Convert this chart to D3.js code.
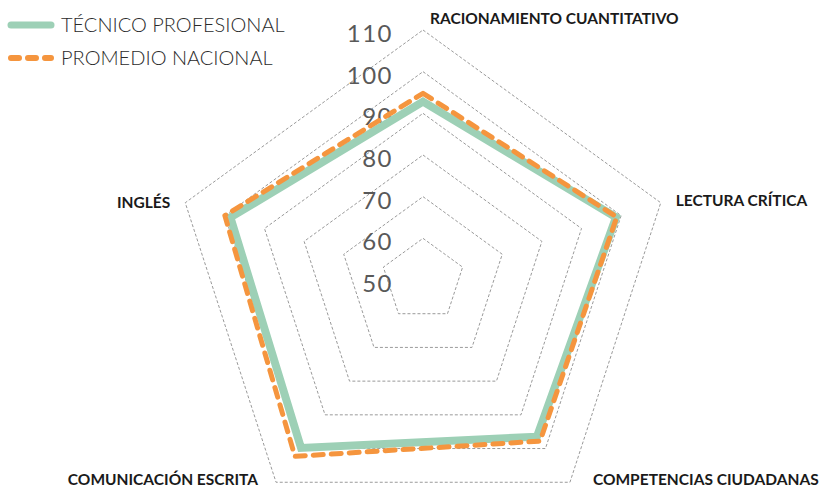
<html>
<head>
  <meta charset="utf-8">
  <script src="https://d3js.org/d3.v7.min.js"></script>
  <style>
  body{ margin:0; background:#fff; }
  .grid{
    fill:none;
    stroke:#9a9a9a;
    stroke-width:1px;
    stroke-dasharray:3,2;
  }
  .axisLabel{
    font-family:Lato, "Open Sans", sans-serif;
    font-weight:700;
    font-size:15.5px;
    fill:#1a1a1a;
  }
  .tick{
    font-family:Lato, "Open Sans", sans-serif;
    font-size:24px;
    letter-spacing:1.5px;
    fill:#595959;
  }
  .legend{
    font-family:Lato, "Open Sans", sans-serif;
    font-weight:300;
    font-size:20px;
    fill:#2b2b2b;
  }
  </style>
</head>
<body>
  <svg id="radar" width="819" height="492"></svg>
  <script>
    // data
    const axes = ["RACIONAMIENTO CUANTITATIVO", "LECTURA CRÍTICA", "COMPETENCIAS CIUDADANAS", "COMUNICACIÓN ESCRITA", "INGLÉS"];
    const tecnico = [92.8, 98.7, 96.5, 99.8, 98.6];
    const nacional = [94.8, 98.9, 97.8, 102.3, 100.0];
    const ticks = [50, 60, 70, 80, 90, 100, 110];
    const seriesNames = ["TÉCNICO PROFESIONAL", "PROMEDIO NACIONAL"];

    const svg = d3.select("#radar");
    const cx = 423, cy = 280;
    const g = svg.append("g").attr("transform", "translate(" + cx + "," + cy + ")");

    const r = d3.scaleLinear().domain([50, 110]).range([0, 250]);
    const angle = d3.scaleLinear().domain([0, axes.length]).range([0, 2 * Math.PI]);

    const radial = d3.lineRadial()
      .angle((d, i) => angle(i))
      .radius(d => r(d))
      .curve(d3.curveLinearClosed);

    // grid pentagons
    g.selectAll(".grid").data(ticks.slice(1))
      .enter().append("path")
      .attr("class", "grid")
      .attr("d", t => radial(axes.map(() => t)));

    // tick labels
    g.selectAll(".tick").data(ticks)
      .enter().append("text")
      .attr("class", "tick")
      .attr("text-anchor", "end")
      .attr("x", -30)
      .attr("y", t => -r(t) + 12)
      .text(t => t);

    // series
    g.append("path")
      .attr("d", radial(tecnico))
      .attr("fill", "none")
      .attr("stroke", "#9dd0b6")
      .attr("stroke-width", 8)
      .attr("stroke-linejoin", "miter");

    g.append("path")
      .attr("d", radial(nacional))
      .attr("fill", "none")
      .attr("stroke", "#f5953e")
      .attr("stroke-width", 5)
      .attr("stroke-dasharray", "10,8")
      .attr("stroke-linecap", "round")
      .attr("stroke-linejoin", "round");

    // axis labels around the outer ring
    const pt = i => {
      const a = angle(i) - Math.PI / 2;
      return [r(110) * Math.cos(a), r(110) * Math.sin(a)];
    };
    const labelPos = [
      {dx: 7, dy: -6, anchor: "start"},
      {dx: 15, dy: 3, anchor: "start"},
      {dx: 23, dy: 3, anchor: "start"},
      {dx: -18, dy: 3, anchor: "end"},
      {dx: -15, dy: 5, anchor: "end"}
    ];
    g.selectAll(".axisLabel").data(axes)
      .enter().append("text")
      .attr("class", "axisLabel")
      .attr("text-anchor", (d, i) => labelPos[i].anchor)
      .attr("x", (d, i) => pt(i)[0] + labelPos[i].dx)
      .attr("y", (d, i) => pt(i)[1] + labelPos[i].dy)
      .text(d => d);

    // legend
    const legend = svg.append("g");
    legend.append("line")
      .attr("x1", 11).attr("x2", 51).attr("y1", 25).attr("y2", 25)
      .attr("stroke", "#9dd0b6").attr("stroke-width", 7).attr("stroke-linecap", "round");
    legend.append("line")
      .attr("x1", 11).attr("x2", 51).attr("y1", 58).attr("y2", 58)
      .attr("stroke", "#f5953e").attr("stroke-width", 6).attr("stroke-linecap", "round")
      .attr("stroke-dasharray", "8,9");
    legend.selectAll(".legend").data(seriesNames)
      .enter().append("text")
      .attr("class", "legend")
      .attr("x", 61)
      .attr("y", (d, i) => 32 + i * 33)
      .text(d => d);
  </script>
</body>
</html>
